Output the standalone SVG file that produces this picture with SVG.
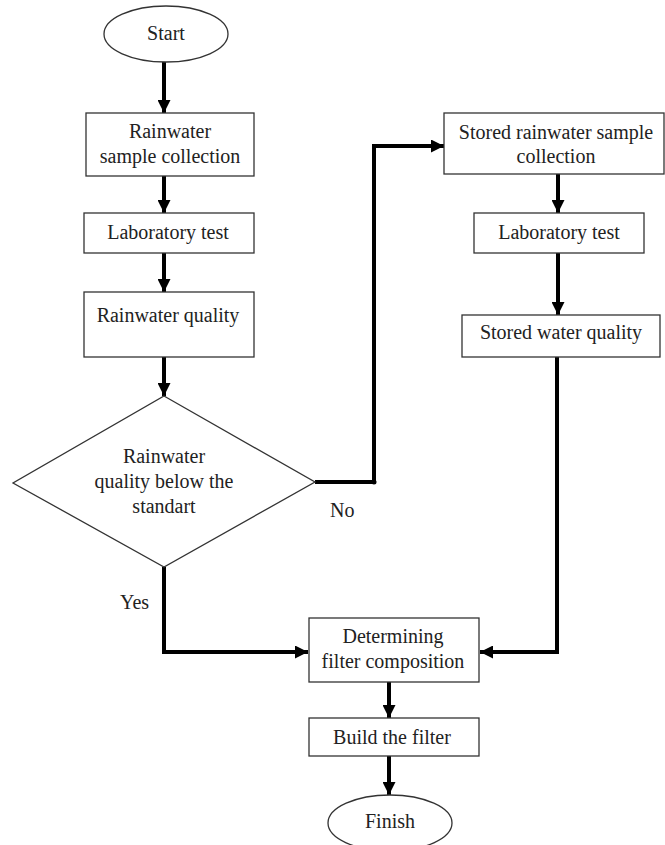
<svg xmlns="http://www.w3.org/2000/svg" width="665" height="845" viewBox="0 0 665 845">
<style>
.box{fill:#fff;stroke:#333;stroke-width:1.3}
.t{font-family:"Liberation Serif","Times New Roman",serif;font-size:20px;fill:#222;text-anchor:middle}
.tl{font-family:"Liberation Serif","Times New Roman",serif;font-size:20px;fill:#222}
.c{fill:none;stroke:#000;stroke-width:4}
</style>
<defs>
<marker id="ah" markerUnits="userSpaceOnUse" markerWidth="13" markerHeight="13" refX="13" refY="6.5" orient="auto">
<path d="M0,0 L13,6.5 L0,13 z" fill="#000"/>
</marker>
</defs>
<rect width="665" height="845" fill="#fff"/>
<g id="connectors">
<line class="c" x1="164" y1="62" x2="164" y2="113" marker-end="url(#ah)"/>
<line class="c" x1="164" y1="176" x2="164" y2="213" marker-end="url(#ah)"/>
<line class="c" x1="164" y1="253" x2="164" y2="292" marker-end="url(#ah)"/>
<line class="c" x1="164" y1="357" x2="164" y2="396" marker-end="url(#ah)"/>
<polyline class="c" points="315,482 374,482 374,146 444,146" marker-end="url(#ah)"/>
<circle cx="374" cy="482" r="2.5" fill="#000"/>
<polyline class="c" points="164,567 164,652 308,652" marker-end="url(#ah)"/>
<polyline class="c" points="557,357 557,652 480,652" marker-end="url(#ah)"/>
<line class="c" x1="558" y1="174" x2="558" y2="213" marker-end="url(#ah)"/>
<line class="c" x1="558" y1="253" x2="558" y2="315" marker-end="url(#ah)"/>
<line class="c" x1="389" y1="682" x2="389" y2="718" marker-end="url(#ah)"/>
<line class="c" x1="389" y1="756" x2="389" y2="795" marker-end="url(#ah)"/>
<text class="tl" x="330" y="517">No</text>
<text class="tl" x="120" y="609">Yes</text>
</g>
<g id="start">
<ellipse class="box" cx="166" cy="34" rx="62" ry="28"/>
<text class="t" x="166" y="40">Start</text>
</g>
<g id="rain-collect">
<rect class="box" x="86" y="113" width="168" height="63"/>
<text class="t" x="170" y="138">Rainwater</text>
<text class="t" x="170" y="163">sample collection</text>
</g>
<g id="lab1">
<rect class="box" x="84" y="213" width="170" height="40"/>
<text class="t" x="168" y="239">Laboratory test</text>
</g>
<g id="rain-quality">
<rect class="box" x="84" y="292" width="170" height="65"/>
<text class="t" x="168" y="322">Rainwater quality</text>
</g>
<g id="decision">
<polygon class="box" points="164,396 315,482 164,567 13,483"/>
<text class="t" x="164" y="463">Rainwater</text>
<text class="t" x="164" y="488">quality below the</text>
<text class="t" x="164" y="513">standart</text>
</g>
<g id="stored-collect">
<rect class="box" x="444" y="113" width="220" height="61"/>
<text class="t" x="556" y="139">Stored rainwater sample</text>
<text class="t" x="556" y="163">collection</text>
</g>
<g id="lab2">
<rect class="box" x="474" y="213" width="170" height="40"/>
<text class="t" x="559" y="239">Laboratory test</text>
</g>
<g id="stored-quality">
<rect class="box" x="462" y="315" width="198" height="42"/>
<text class="t" x="561" y="339">Stored water quality</text>
</g>
<g id="determine">
<rect class="box" x="309" y="618" width="170" height="64"/>
<text class="t" x="393" y="643">Determining</text>
<text class="t" x="393" y="668">filter composition</text>
</g>
<g id="build">
<rect class="box" x="309" y="718" width="170" height="38"/>
<text class="t" x="392" y="744">Build the filter</text>
</g>
<g id="finish">
<ellipse class="box" cx="390" cy="823" rx="62" ry="28"/>
<text class="t" x="390" y="828">Finish</text>
</g>
</svg>
